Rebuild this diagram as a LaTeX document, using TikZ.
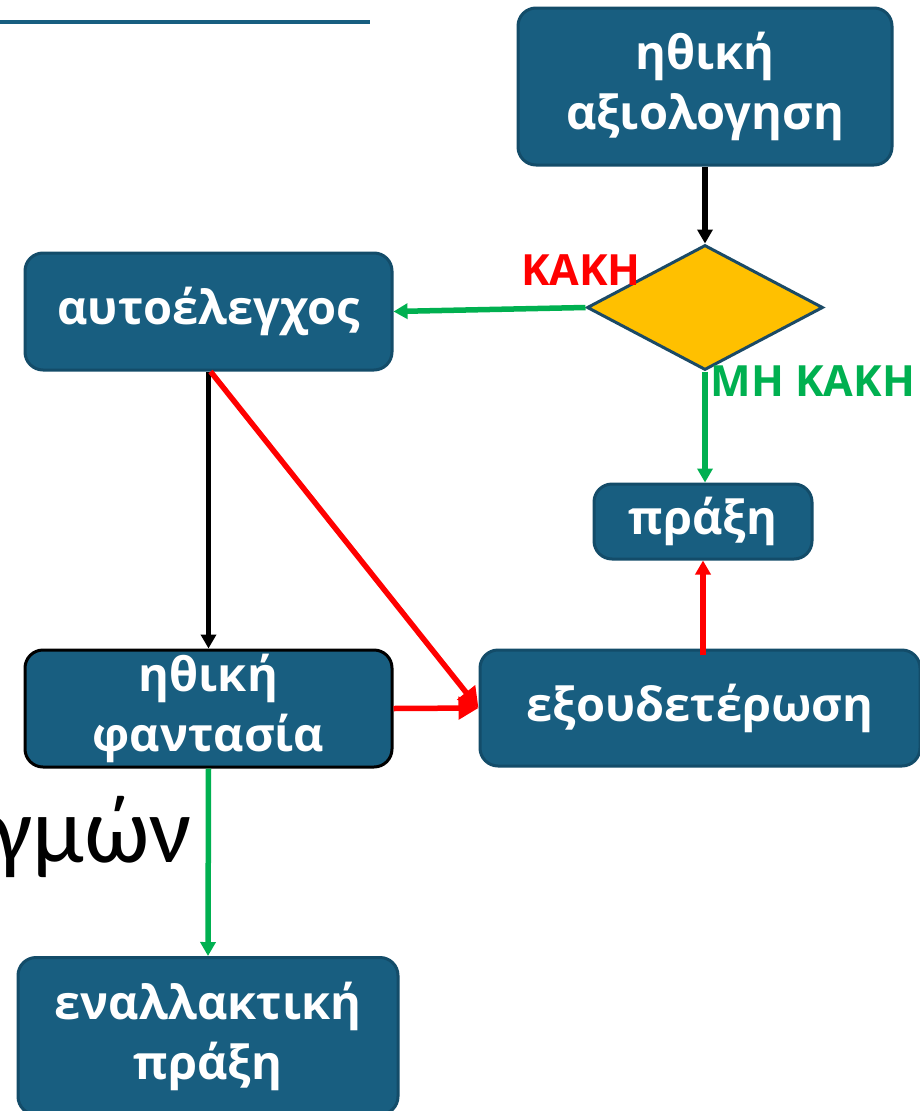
\documentclass[tikz,border=0pt]{standalone}
\usepackage{fontspec}
\setmainfont{Open Sans}
\newfontfamily\calfont{Carlito}
\usetikzlibrary{arrows.meta,shapes.geometric}
\definecolor{boxblue}{HTML}{185E80}
\definecolor{boxedge}{HTML}{134C69}
\definecolor{dgold}{HTML}{FFC000}
\definecolor{dedge}{HTML}{1B4A66}
\definecolor{mygreen}{HTML}{00B050}
\definecolor{myred}{HTML}{FF0000}
\tikzset{
  box/.style={draw=boxedge, line width=3pt, fill=boxblue, rounded corners=18pt,
    text=white, font=\bfseries\fontsize{47}{60}\selectfont, align=center, inner sep=0pt},
  conn/.style={line width=5.5pt},
  tip/.style={-{Triangle[length=14pt,width=15pt]}},
  bigtip/.style={-{Triangle[length=20pt,width=22pt]}},
  lbl/.style={font=\bfseries\fontsize{43}{46}\selectfont, inner sep=0pt},
}
\begin{document}
\begin{tikzpicture}[x=1pt,y=-1pt]
\useasboundingbox (0,0) rectangle (920,1111);
\clip (0,0) rectangle (920,1111);
% top rule
\draw[line width=4pt, color=boxblue] (0,22) -- (370,22);
% big background word
\node[anchor=base east, font=\calfont\fontsize{94}{100}\selectfont, inner sep=0pt] (word) at (192,862) {γμών};
% boxes
\node[box, minimum width=374pt, minimum height=157pt] (eval) at (705,86.5) {ηθική\\αξιολογηση};
\node[diamond, draw=dedge, line width=3pt, fill=dgold, minimum width=236pt, minimum height=125pt, inner sep=0pt, aspect=1.9] (dec) at (705,307.5) {};
\node[box, minimum width=367pt, minimum height=117pt] (self) at (208.5,311.5) {αυτοέλεγχος};
\node[box, minimum width=218pt, minimum height=75pt] (act) at (703,521.5) {πράξη};
\node[box, minimum width=440pt, minimum height=116pt] (neut) at (700,708) {εξουδετέρωση};
\node[box, draw=black, minimum width=367pt, minimum height=117pt] (fant) at (208.5,708.5) {ηθική\\φαντασία};
\node[box, minimum width=380pt, minimum height=157pt] (alt) at (208,1036) {εναλλακτική\\πράξη};
% labels
\node[lbl, text=myred] (kakh) at (581,270) {ΚΑΚΗ};
\node[lbl, text=mygreen] (mhkakh) at (813,381) {ΜΗ ΚΑΚΗ};
% connectors
\draw[conn, black, tip] (eval.south) -- (dec.north);
\draw[conn, mygreen, tip] (dec.west) -- (self.east);
\draw[conn, mygreen, tip] (dec.south) -- (act.north -| dec.south);
\draw[conn, myred, tip] ([yshift=-6pt]neut.north -| act.south) -- (act.south);
\draw[conn, black, tip] (self.south) -- (fant.north);
\draw[conn, myred, bigtip] ([xshift=2pt]self.south) -- (neut.west);
\draw[conn, myred, bigtip] (fant.east) -- (neut.west);
\draw[conn, mygreen, tip] (fant.south) -- (alt.north);
\end{tikzpicture}
\end{document}
